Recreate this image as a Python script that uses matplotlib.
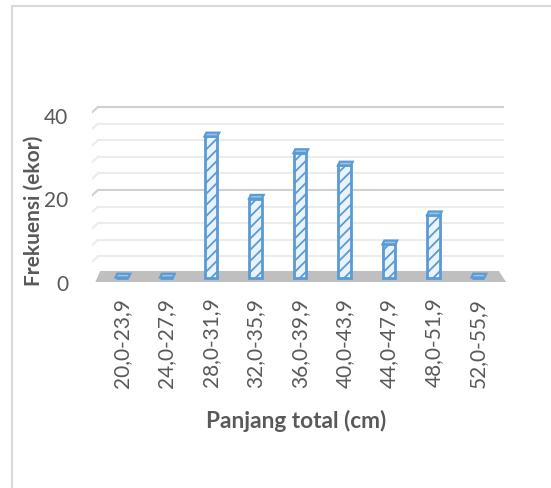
import matplotlib.pyplot as plt
import matplotlib.transforms as mtransforms
from matplotlib.patches import Polygon, Rectangle

plt.rcParams['font.family'] = ['Lato', 'DejaVu Sans']
plt.rcParams['hatch.linewidth'] = 1.3

kelas = ['20,0-23,9', '24,0-27,9', '28,0-31,9', '32,0-35,9', '36,0-39,9',
         '40,0-43,9', '44,0-47,9', '48,0-51,9', '52,0-55,9']
frekuensi = [0, 0, 34, 19, 30, 27, 8, 15, 0]
grid_ticks = list(range(0, 44, 4))
major_ticks = [0, 20, 40]

text_col = '#595959'
blue = '#5b9bd5'

W, H = 551, 488
fig = plt.figure(figsize=(W / 100, H / 100), dpi=100)

# axes box in pixels (left, top, right, bottom)
L, T, R, B = 92, 100, 506, 288
ax = fig.add_axes([L / W, 1 - B / H, (R - L) / W, (B - T) / H])
xpos = list(range(len(kelas)))
ax.set_xlim(-0.674, 8.63)
ax.set_ylim(-2.53, 42.77)
for s in ax.spines.values():
    s.set_visible(False)

# back wall sits a few pixels above the bar plane
wall = mtransforms.offset_copy(ax.transData, fig=fig, x=0, y=4.5, units='dots')
for g in grid_ticks[1:]:
    col = '#d0d0d0' if g in major_ticks else '#ececec'
    ax.plot([-0.54, 8.56], [g, g], color=col, lw=1.5, transform=wall, zorder=1)
    ax.plot([-0.674, -0.54], [g - 1.3, g], color=col, lw=1.5, transform=wall, zorder=1)

# floor
floor = Polygon([(-0.6, -1.08), (8.63, -1.08), (8.47, 1.57), (-0.49, 1.57)],
                closed=True, facecolor='#bfbfbf', edgecolor='none', zorder=2)
ax.add_patch(floor)

bw = 0.29
ax.bar(xpos, frekuensi, width=bw, color='#eaf2fb', edgecolor=blue,
       hatch='///', linewidth=2.0, zorder=3)

# top faces of the columns
dx, dy = 0.04, 0.9
for x, v in zip(xpos, frekuensi):
    top = Polygon([(x - bw / 2, v), (x + bw / 2, v),
                   (x + bw / 2 + dx, v + dy), (x - bw / 2 + dx, v + dy)],
                  closed=True, facecolor='#9dc3e6', edgecolor=blue,
                  linewidth=1.6, zorder=4)
    ax.add_patch(top)

ax.set_yticks(major_ticks)
ax.set_yticklabels([str(t) for t in major_ticks], fontsize=15, color=text_col)
ax.tick_params(axis='y', length=0, pad=17)
shift = mtransforms.ScaledTranslation(0, -5 / 100, fig.dpi_scale_trans)
for lab in ax.get_yticklabels():
    lab.set_transform(lab.get_transform() + shift)

ax.set_xticks(xpos)
ax.set_xticklabels(kelas, rotation=90, fontsize=15, color=text_col)
ax.tick_params(axis='x', length=0, pad=7)

fig.text(296 / W, 1 - 421 / H, 'Panjang total (cm)', ha='center', va='center',
         fontsize=16.3, fontweight='bold', color=text_col)
fig.text(34 / W, 1 - 211 / H, 'Frekuensi (ekor)', ha='center', va='center',
         rotation=90, fontsize=15, fontweight='bold', color=text_col)

# chart area border (top and left edges)
fig.add_artist(Rectangle((12 / W, -0.1), 1.2, 1.1 - 6 / H, transform=fig.transFigure,
                         facecolor='none', edgecolor='#d9d9d9', linewidth=1.5))

fig.savefig('out.png', dpi=100)
